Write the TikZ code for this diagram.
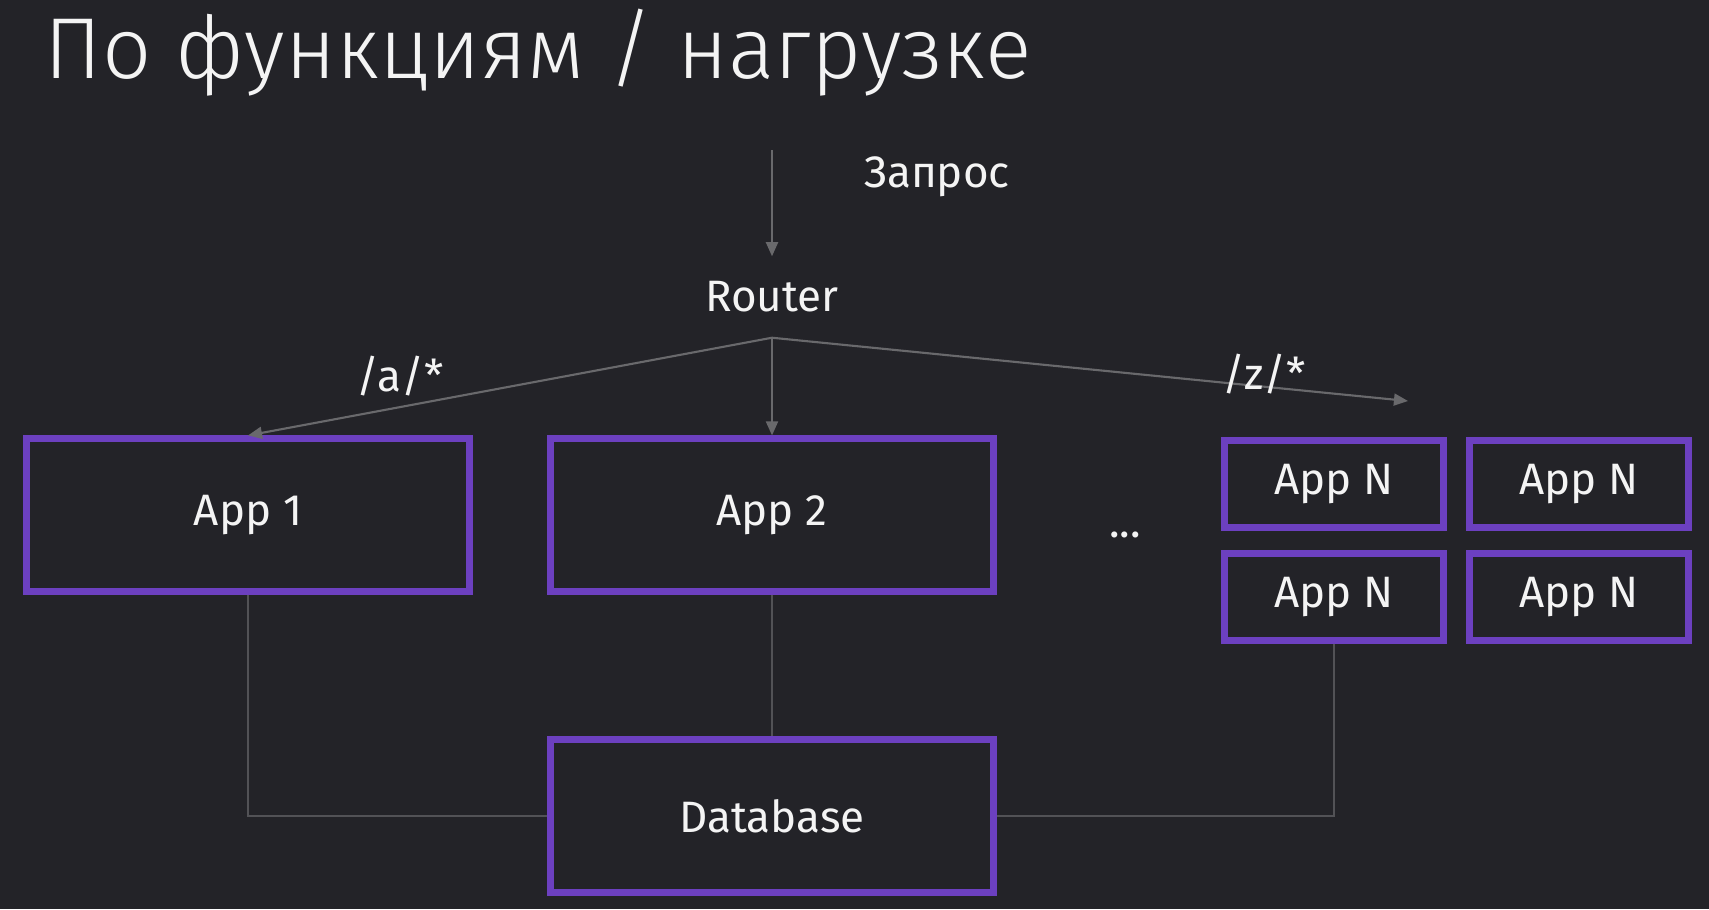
\documentclass[tikz,border=0pt]{standalone}
\usepackage{fontspec}
\setmainfont{Fira Sans}
\newfontfamily\titlefont{Fira Sans}[UprightFont={* Light}]
\usetikzlibrary{arrows.meta}

\definecolor{bgcol}{RGB}{35,35,40}
\definecolor{boxcol}{RGB}{108,64,192}
\definecolor{arrcol}{RGB}{105,105,108}
\definecolor{linkcol}{RGB}{82,82,86}
\definecolor{txtcol}{RGB}{244,244,244}

\begin{document}
\begin{tikzpicture}[x=0.01cm,y=-0.01cm,
  every node/.style={text=txtcol,font=\fontsize{12.5}{15}\selectfont},
  appbox/.style={draw=boxcol,line width=2pt,minimum width=4.42cm,minimum height=1.52cm},
  smallbox/.style={draw=boxcol,line width=2pt,minimum width=2.18cm,minimum height=0.86cm},
  arr/.style={draw=arrcol,line width=0.6pt,-{Triangle[length=4pt,width=3.4pt]}},
  link/.style={draw=linkcol,line width=0.6pt}]
%background and frame
\fill[bgcol] (0,0) rectangle (1709,909);
\useasboundingbox (0,0) rectangle (1709,909);

%title
\node[anchor=base west,inner sep=0pt,font=\titlefont\fontsize{24.6}{28}\selectfont] (title) at (44,78) {По функциям / нагрузке};

%request and router
\coordinate (req) at (772,150);
\node (reqlbl) at (937,177) {Запрос};
\node[inner sep=7pt] (router) at (772,297) {Router};
\draw[arr] (req) -- (router.north);

%apps
\node[appbox] (app1) at (248,515) {App 1};
\node[appbox] (app2) at (772,515) {App 2};
\node (dots) at (1125,535) {...};
\node[smallbox] (appNa) at (1334,484) {App N};
\node[smallbox] (appNb) at (1579,484) {App N};
\node[smallbox] (appNc) at (1334,597) {App N};
\node[smallbox] (appNd) at (1579,597) {App N};

%routes
\coordinate (zend) at (1408,401);
\draw[arr] (router.south) -- (app1.north);
\draw[arr] (router.south) -- (app2.north);
\draw[arr] (router.south) -- (zend);
\node (albl) at (400,376) {/a/*};
\node (zlbl) at (1264,374) {/z/*};

%database
\node[appbox] (db) at (772,816) {Database};
\draw[link] (app1.south) |- (db.west);
\draw[link] (app2.south) -- (db.north);
\draw[link] (appNc.south) |- (db.east);
\end{tikzpicture}
\end{document}
